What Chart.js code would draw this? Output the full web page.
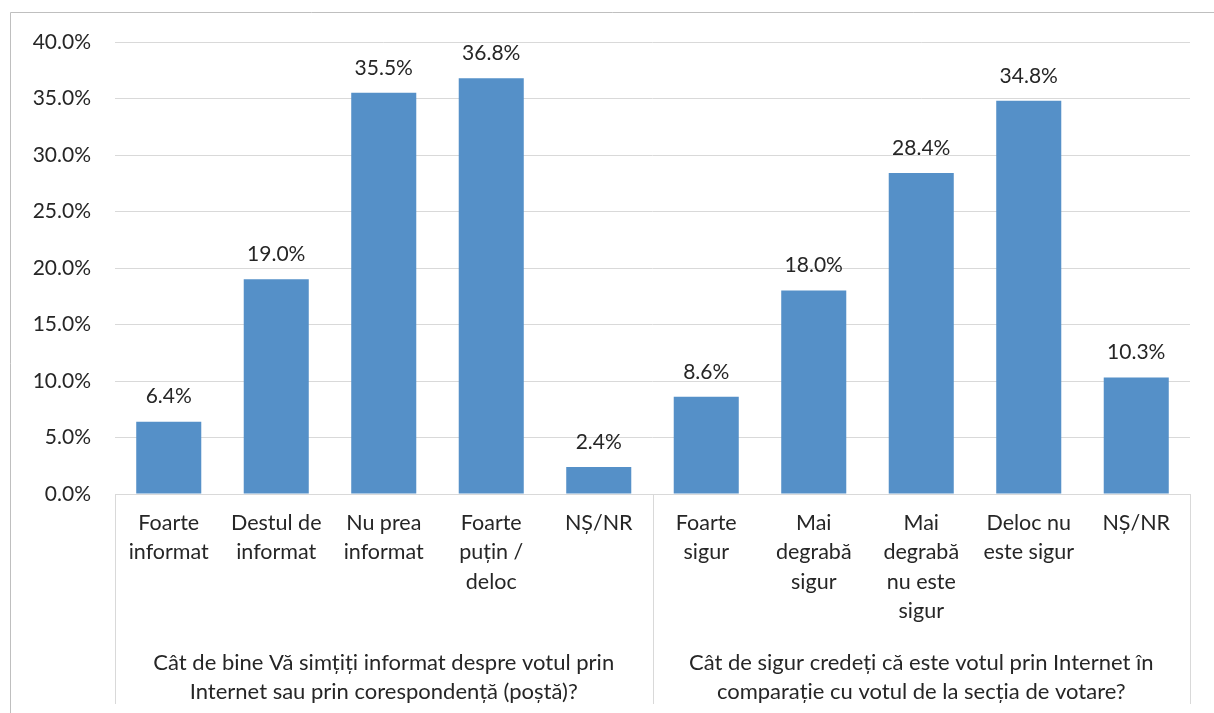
<!DOCTYPE html>
<html>
<head>
<meta charset="utf-8">
<script src="https://cdn.jsdelivr.net/npm/chart.js@4"></script>
<style>
html,body{margin:0;padding:0;background:#fff;overflow:hidden;}
#wrap{position:absolute;left:0;top:0;width:1214px;height:713px;}
</style>
</head>
<body>
<div id="wrap"><canvas id="c" width="1214" height="713"></canvas></div>
<script>
const categories = [
  ["Foarte", "informat"],
  ["Destul de", "informat"],
  ["Nu prea", "informat"],
  ["Foarte", "puțin /", "deloc"],
  ["NȘ/NR"],
  ["Foarte", "sigur"],
  ["Mai", "degrabă", "sigur"],
  ["Mai", "degrabă", "nu este", "sigur"],
  ["Deloc nu", "este sigur"],
  ["NȘ/NR"]
];
const values = [6.4, 19.0, 35.5, 36.8, 2.4, 8.6, 18.0, 28.4, 34.8, 10.3];
const groupLabels = [
  ["Cât de bine Vă simțiți informat despre votul prin", "Internet sau prin corespondență (poștă)?"],
  ["Cât de sigur credeți că este votul prin Internet în", "comparație cu votul de la secția de votare?"]
];
const groupSizes = [5, 5];
const yMin = 0, yMax = 40, yStep = 5;

const FONT = "Lato, 'Open Sans', sans-serif";
const TEXT = "#262626";
const LINE = "#d9d9d9";

const decorPlugin = {
  id: 'decor',
  afterDraw(chart) {
    const ctx = chart.ctx;
    const x = chart.scales.x, y = chart.scales.y;
    ctx.save();
    // outer border
    ctx.strokeStyle = "#bfbfbf";
    ctx.lineWidth = 1;
    ctx.beginPath();
    ctx.moveTo(10.5, 720); ctx.lineTo(10.5, 12.5); ctx.lineTo(1220, 12.5);
    ctx.stroke();
    // value labels
    ctx.fillStyle = TEXT;
    ctx.font = "21px " + FONT;
    ctx.textAlign = "center";
    ctx.textBaseline = "middle";
    values.forEach((v, i) => {
      ctx.fillText(v.toFixed(1) + "%", x.getPixelForValue(i), y.getPixelForValue(v) - 25);
    });
    // group separators
    const top = y.getPixelForValue(0);
    const bottom = 704;
    ctx.strokeStyle = LINE;
    let start = 0;
    const bounds = [-0.5];
    groupSizes.forEach(s => { start += s; bounds.push(start - 0.5); });
    bounds.forEach(b => {
      const px = Math.round(x.getPixelForValue(b)) + 0.5;
      ctx.beginPath(); ctx.moveTo(px, top); ctx.lineTo(px, bottom); ctx.stroke();
    });
    // group labels
    ctx.font = "22px " + FONT;
    ctx.fillStyle = TEXT;
    for (let g = 0; g < groupLabels.length; g++) {
      const cx = (x.getPixelForValue(bounds[g]) + x.getPixelForValue(bounds[g + 1])) / 2;
      groupLabels[g].forEach((line, k) => {
        ctx.fillText(line, cx, 663 + k * 29);
      });
    }
    ctx.restore();
  }
};

new Chart(document.getElementById('c'), {
  type: 'bar',
  data: {
    labels: categories,
    datasets: [{
      data: values,
      backgroundColor: "#5590c8",
      borderWidth: 0,
      barPercentage: 0.605,
      categoryPercentage: 1.0
    }]
  },
  options: {
    responsive: false,
    animation: false,
    events: [],
    layout: { padding: { left: 0, top: 42, right: 24, bottom: 0 } },
    plugins: { legend: { display: false }, tooltip: { enabled: false } },
    scales: {
      x: {
        offset: true,
        grid: { display: false, drawTicks: false },
        border: { display: true, color: LINE, width: 1 },
        ticks: {
          maxRotation: 0, minRotation: 0, autoSkip: false,
          color: TEXT, padding: 15,
          font: { family: FONT, size: 21.5, lineHeight: 1.35 }
        },
        afterFit(scale) { scale.height = 713 - 494; }
      },
      y: {
        min: yMin, max: yMax,
        grid: { color: LINE, drawTicks: false, lineWidth: 1 },
        border: { display: false },
        ticks: {
          stepSize: yStep, color: TEXT, padding: 24,
          font: { family: FONT, size: 21 },
          callback: v => v.toFixed(1) + "%"
        },
        afterFit(scale) { scale.width = 115; }
      }
    }
  },
  plugins: [decorPlugin]
});
</script>
</body>
</html>
